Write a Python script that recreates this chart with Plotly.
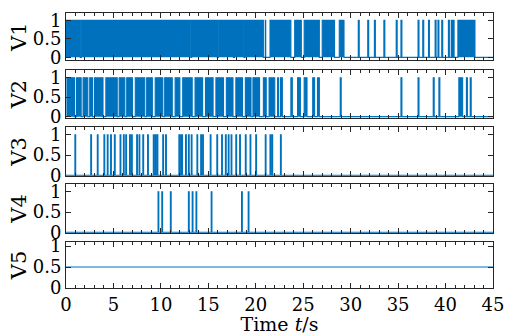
import plotly.graph_objects as go
from plotly.subplots import make_subplots

# Time axis
T_END = 45
x_ticks = [0, 5, 10, 15, 20, 25, 30, 35, 40, 45]
y_ticks = [0, 0.5, 1]
y_tick_text = ["0", "0.5", "1"]
channel_names = ["V1", "V2", "V3", "V4", "V5"]

# Switching signals: (on, off) times in seconds
v1_on = [
    (0.05, 1.5), (1.62, 13.15), (13.25, 15.95), (16.05, 17.65), (17.75, 18.75),
    (18.85, 20.8), (21.0, 21.05), (21.5, 23.7), (24.1, 24.8), (25.1, 26.7),
    (27.0, 28.3), (28.8, 29.3), (30.8, 30.9), (31.8, 31.9), (32.5, 32.6),
    (33.5, 33.6), (34.8, 34.9), (35.3, 35.4), (37.1, 37.2), (37.6, 37.7),
    (38.2, 38.3), (38.9, 39.0), (39.2, 39.3), (39.6, 39.7), (40.3, 40.4),
    (40.6, 40.7), (40.8, 40.9), (41.3, 43.1),
]
v2_on = [
    (0.1, 0.9), (1.1, 1.6), (1.8, 2.3), (2.5, 2.8), (3.0, 3.9), (4.2, 5.4),
    (5.6, 6.2), (6.4, 7.0), (7.3, 8.3), (8.5, 9.1), (9.4, 10.2), (10.4, 11.2),
    (11.5, 12.0), (12.3, 13.3), (13.6, 14.4), (14.7, 15.5), (15.8, 16.6),
    (16.9, 17.6), (17.9, 18.6), (18.9, 19.5), (19.7, 20.4), (20.8, 21.1),
    (21.4, 22.0), (22.3, 22.4), (22.6, 22.8), (23.7, 23.85), (24.4, 24.7),
    (25.1, 25.4), (26.0, 26.2), (26.5, 26.7), (28.9, 29.0), (35.3, 35.4),
    (37.1, 37.2), (38.7, 38.8), (39.3, 39.4), (41.4, 41.8), (42.2, 42.3),
    (42.6, 42.7),
]
v3_pulses = [
    0.94, 2.61, 3.3, 4.0, 4.35, 4.7, 5.1, 5.7, 6.05, 6.3, 6.7, 6.9, 7.45, 7.7,
    8.1, 8.6, 9.2, 9.4, 9.6, 10.2, 10.5, 11.9, 12.1, 12.2, 12.6, 12.9, 13.2,
    13.8, 14.2, 14.4, 15.2, 15.9, 16.4, 16.8, 17.1, 17.4, 17.9, 18.3, 18.9,
    19.4, 20.0, 21.0, 21.5, 21.7, 22.6,
]
v4_pulses = [9.7, 10.1, 11.0, 12.9, 13.3, 13.7, 15.3, 18.5, 19.2]
v5_level = 0.5

PULSE_WIDTH = 0.08


def step_series(intervals):
    xs, ys = [0.0], [0.0]
    for start, stop in intervals:
        xs += [start, stop]
        ys += [1.0, 0.0]
    xs.append(T_END)
    ys.append(0.0)
    return xs, ys


def pulse_intervals(times):
    return [(t, t + PULSE_WIDTH) for t in times]


signals = [
    step_series(v1_on),
    step_series(v2_on),
    step_series(pulse_intervals(v3_pulses)),
    step_series(pulse_intervals(v4_pulses)),
    ([0, T_END], [v5_level, v5_level]),
]

BLUE = "#0072BD"
AXIS = "#262626"
FONT = "DejaVu Serif"

fig = make_subplots(rows=5, cols=1, shared_xaxes=True)

for i, (xs, ys) in enumerate(signals, start=1):
    fig.add_trace(
        go.Scatter(
            x=xs, y=ys, mode="lines",
            line=dict(color=BLUE, width=1.1, shape="hv" if i < 5 else "linear"),
            fill="tozeroy" if i < 5 else None,
            fillcolor=BLUE,
            showlegend=False, hoverinfo="skip",
        ),
        row=i, col=1,
    )

# panel placement (paper fractions, bottom to top)
domains = [
    [0.828, 1.0],
    [0.6175, 0.793],
    [0.407, 0.586],
    [0.2, 0.379],
    [0.0, 0.168],
]
y_ranges = [[-0.08, 1.2], [-0.04, 1.2], [-0.02, 1.2], [-0.02, 1.2], [0, 1.1]]

for i in range(1, 6):
    fig.update_yaxes(
        row=i, col=1,
        domain=domains[i - 1], range=y_ranges[i - 1],
        tickvals=y_ticks, ticktext=y_tick_text,
        ticks="inside", ticklen=5, tickwidth=1, tickcolor=AXIS,
        showline=True, linecolor=AXIS, linewidth=1, mirror="ticks",
        showgrid=False, zeroline=False,
        title=dict(text=channel_names[i - 1], standoff=0,
                   font=dict(family=FONT, size=21, color="black")),
        tickfont=dict(family=FONT, size=18, color="black"),
    )
    fig.update_xaxes(
        row=i, col=1,
        range=[0, T_END], tickvals=x_ticks,
        ticks="inside", ticklen=5, tickwidth=1, tickcolor=AXIS,
        minor=dict(dtick=1, ticks="inside", ticklen=3, tickcolor=AXIS, tickwidth=1),
        showline=True, linecolor=AXIS, linewidth=1, mirror="ticks",
        showgrid=False, zeroline=False,
        showticklabels=(i == 5),
        tickfont=dict(family=FONT, size=18, color="black"),
    )

fig.update_xaxes(
    row=5, col=1,
    title=dict(text="Time <i>t</i>/s", standoff=0,
               font=dict(family=FONT, size=19, color="black")),
)

fig.update_layout(
    width=511, height=335,
    margin=dict(l=66, r=14, t=7, b=43),
    paper_bgcolor="white", plot_bgcolor="white",
    font=dict(family=FONT, color="black"),
)

fig.write_html("out.html")
